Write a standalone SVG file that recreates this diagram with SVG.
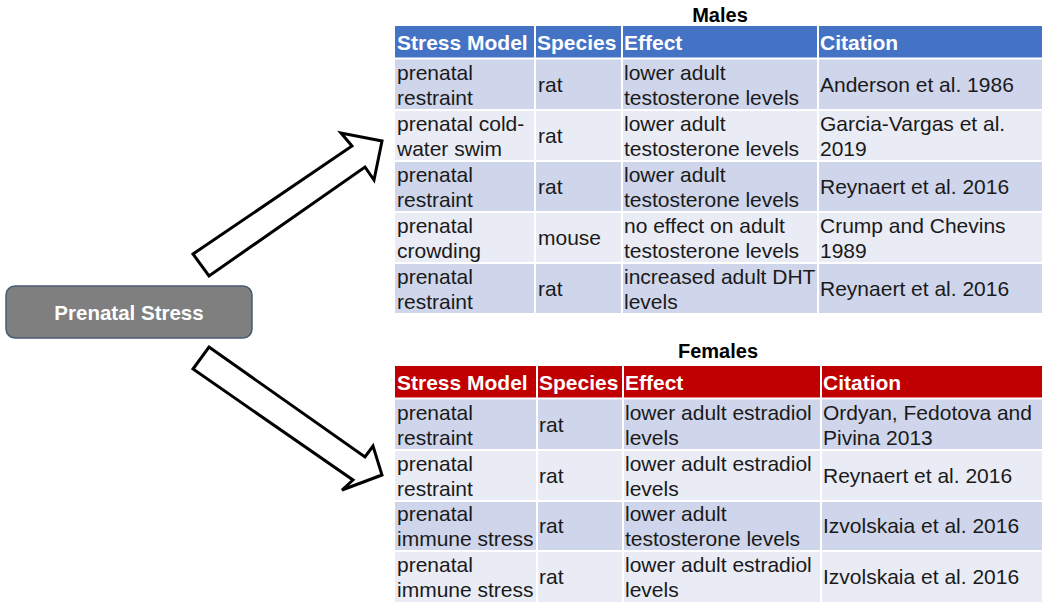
<svg xmlns="http://www.w3.org/2000/svg" width="1050" height="609" viewBox="0 0 1050 609">
<style>
text{font-family:"Liberation Sans",Arial,sans-serif;font-size:21px;fill:#1a1a1a}
.h{font-weight:bold;fill:#fff}
.t{font-weight:bold;fill:#000;text-anchor:middle}
.d{fill:#cfd5ea}
.l{fill:#e9ebf5}
.sep{stroke:#fff;stroke-width:2}
.arrow{fill:#fff;stroke:#000;stroke-width:3;stroke-linejoin:miter}
</style>
<rect width="1050" height="609" fill="#fff"/>
<g id="prenatal-stress">
<rect x="6" y="286" width="246" height="52" rx="9" fill="#7f7f7f" stroke="#4a5a75" stroke-width="1.5"/>
<text x="129" y="320" class="h" style="text-anchor:middle;font-size:20.5px">Prenatal Stress</text>
</g>
<g id="connectors">
<polygon class="arrow" points="193,254 352,146 341,133 382,141 374,180 365,167 209,276"/>
<polygon class="arrow" points="209,347 365,457 373,446 382,475 342,490 353,480 193,369"/>
</g>
<g id="males-table">
<text x="720" y="22" class="t" style="font-size:20px">Males</text>
<rect x="395" y="26" width="647" height="32" fill="#4472c4"/>
<rect x="395" y="59" width="647" height="51" class="d"/>
<rect x="395" y="110" width="647" height="51" class="l"/>
<rect x="395" y="161" width="647" height="51" class="d"/>
<rect x="395" y="212" width="647" height="51" class="l"/>
<rect x="395" y="263" width="647" height="50" class="d"/>
<g class="sep">
<line x1="395" y1="58.5" x2="1042" y2="58.5"/>
<line x1="395" y1="110" x2="1042" y2="110"/>
<line x1="395" y1="161" x2="1042" y2="161"/>
<line x1="395" y1="212" x2="1042" y2="212"/>
<line x1="395" y1="263" x2="1042" y2="263"/>
<line x1="535" y1="26" x2="535" y2="313"/>
<line x1="622" y1="26" x2="622" y2="313"/>
<line x1="818" y1="26" x2="818" y2="313"/>
</g>
<text x="397" y="50" class="h">Stress Model</text>
<text x="537" y="50" class="h">Species</text>
<text x="624" y="50" class="h">Effect</text>
<text x="820" y="50" class="h">Citation</text>
<text x="397" y="80">prenatal</text><text x="397" y="105">restraint</text>
<text x="538" y="92">rat</text>
<text x="624" y="80">lower adult</text><text x="624" y="105">testosterone levels</text>
<text x="820" y="92">Anderson et al. 1986</text>
<text x="397" y="131">prenatal cold-</text><text x="397" y="156">water swim</text>
<text x="538" y="143">rat</text>
<text x="624" y="131">lower adult</text><text x="624" y="156">testosterone levels</text>
<text x="820" y="131">Garcia-Vargas et al.</text><text x="820" y="156">2019</text>
<text x="397" y="182">prenatal</text><text x="397" y="207">restraint</text>
<text x="538" y="194">rat</text>
<text x="624" y="182">lower adult</text><text x="624" y="207">testosterone levels</text>
<text x="820" y="194">Reynaert et al. 2016</text>
<text x="397" y="233">prenatal</text><text x="397" y="258">crowding</text>
<text x="538" y="245">mouse</text>
<text x="624" y="233">no effect on adult</text><text x="624" y="258">testosterone levels</text>
<text x="820" y="233">Crump and Chevins</text><text x="820" y="258">1989</text>
<text x="397" y="284">prenatal</text><text x="397" y="309">restraint</text>
<text x="538" y="296">rat</text>
<text x="624" y="284">increased adult DHT</text><text x="624" y="309">levels</text>
<text x="820" y="296">Reynaert et al. 2016</text>
</g>
<g id="females-table">
<text x="718" y="358" class="t" style="font-size:20px">Females</text>
<rect x="395" y="366" width="647" height="32" fill="#c00000"/>
<rect x="395" y="399" width="647" height="51" class="d"/>
<rect x="395" y="450" width="647" height="51" class="l"/>
<rect x="395" y="501" width="647" height="50" class="d"/>
<rect x="395" y="551" width="647" height="51" class="l"/>
<g class="sep">
<line x1="395" y1="398.5" x2="1042" y2="398.5"/>
<line x1="395" y1="450" x2="1042" y2="450"/>
<line x1="395" y1="501" x2="1042" y2="501"/>
<line x1="395" y1="551" x2="1042" y2="551"/>
<line x1="537" y1="366" x2="537" y2="602"/>
<line x1="623" y1="366" x2="623" y2="602"/>
<line x1="821" y1="366" x2="821" y2="602"/>
</g>
<text x="397" y="390" class="h">Stress Model</text>
<text x="539" y="390" class="h">Species</text>
<text x="625" y="390" class="h">Effect</text>
<text x="823" y="390" class="h">Citation</text>
<text x="397" y="420">prenatal</text><text x="397" y="445">restraint</text>
<text x="539" y="432">rat</text>
<text x="625" y="420">lower adult estradiol</text><text x="625" y="445">levels</text>
<text x="823" y="420">Ordyan, Fedotova and</text><text x="823" y="445">Pivina 2013</text>
<text x="397" y="471">prenatal</text><text x="397" y="496">restraint</text>
<text x="539" y="483">rat</text>
<text x="625" y="471">lower adult estradiol</text><text x="625" y="496">levels</text>
<text x="823" y="483">Reynaert et al. 2016</text>
<text x="397" y="521">prenatal</text><text x="397" y="546">immune stress</text>
<text x="539" y="533">rat</text>
<text x="625" y="521">lower adult</text><text x="625" y="546">testosterone levels</text>
<text x="823" y="533">Izvolskaia et al. 2016</text>
<text x="397" y="572">prenatal</text><text x="397" y="597">immune stress</text>
<text x="539" y="584">rat</text>
<text x="625" y="572">lower adult estradiol</text><text x="625" y="597">levels</text>
<text x="823" y="584">Izvolskaia et al. 2016</text>
</g>
</svg>
